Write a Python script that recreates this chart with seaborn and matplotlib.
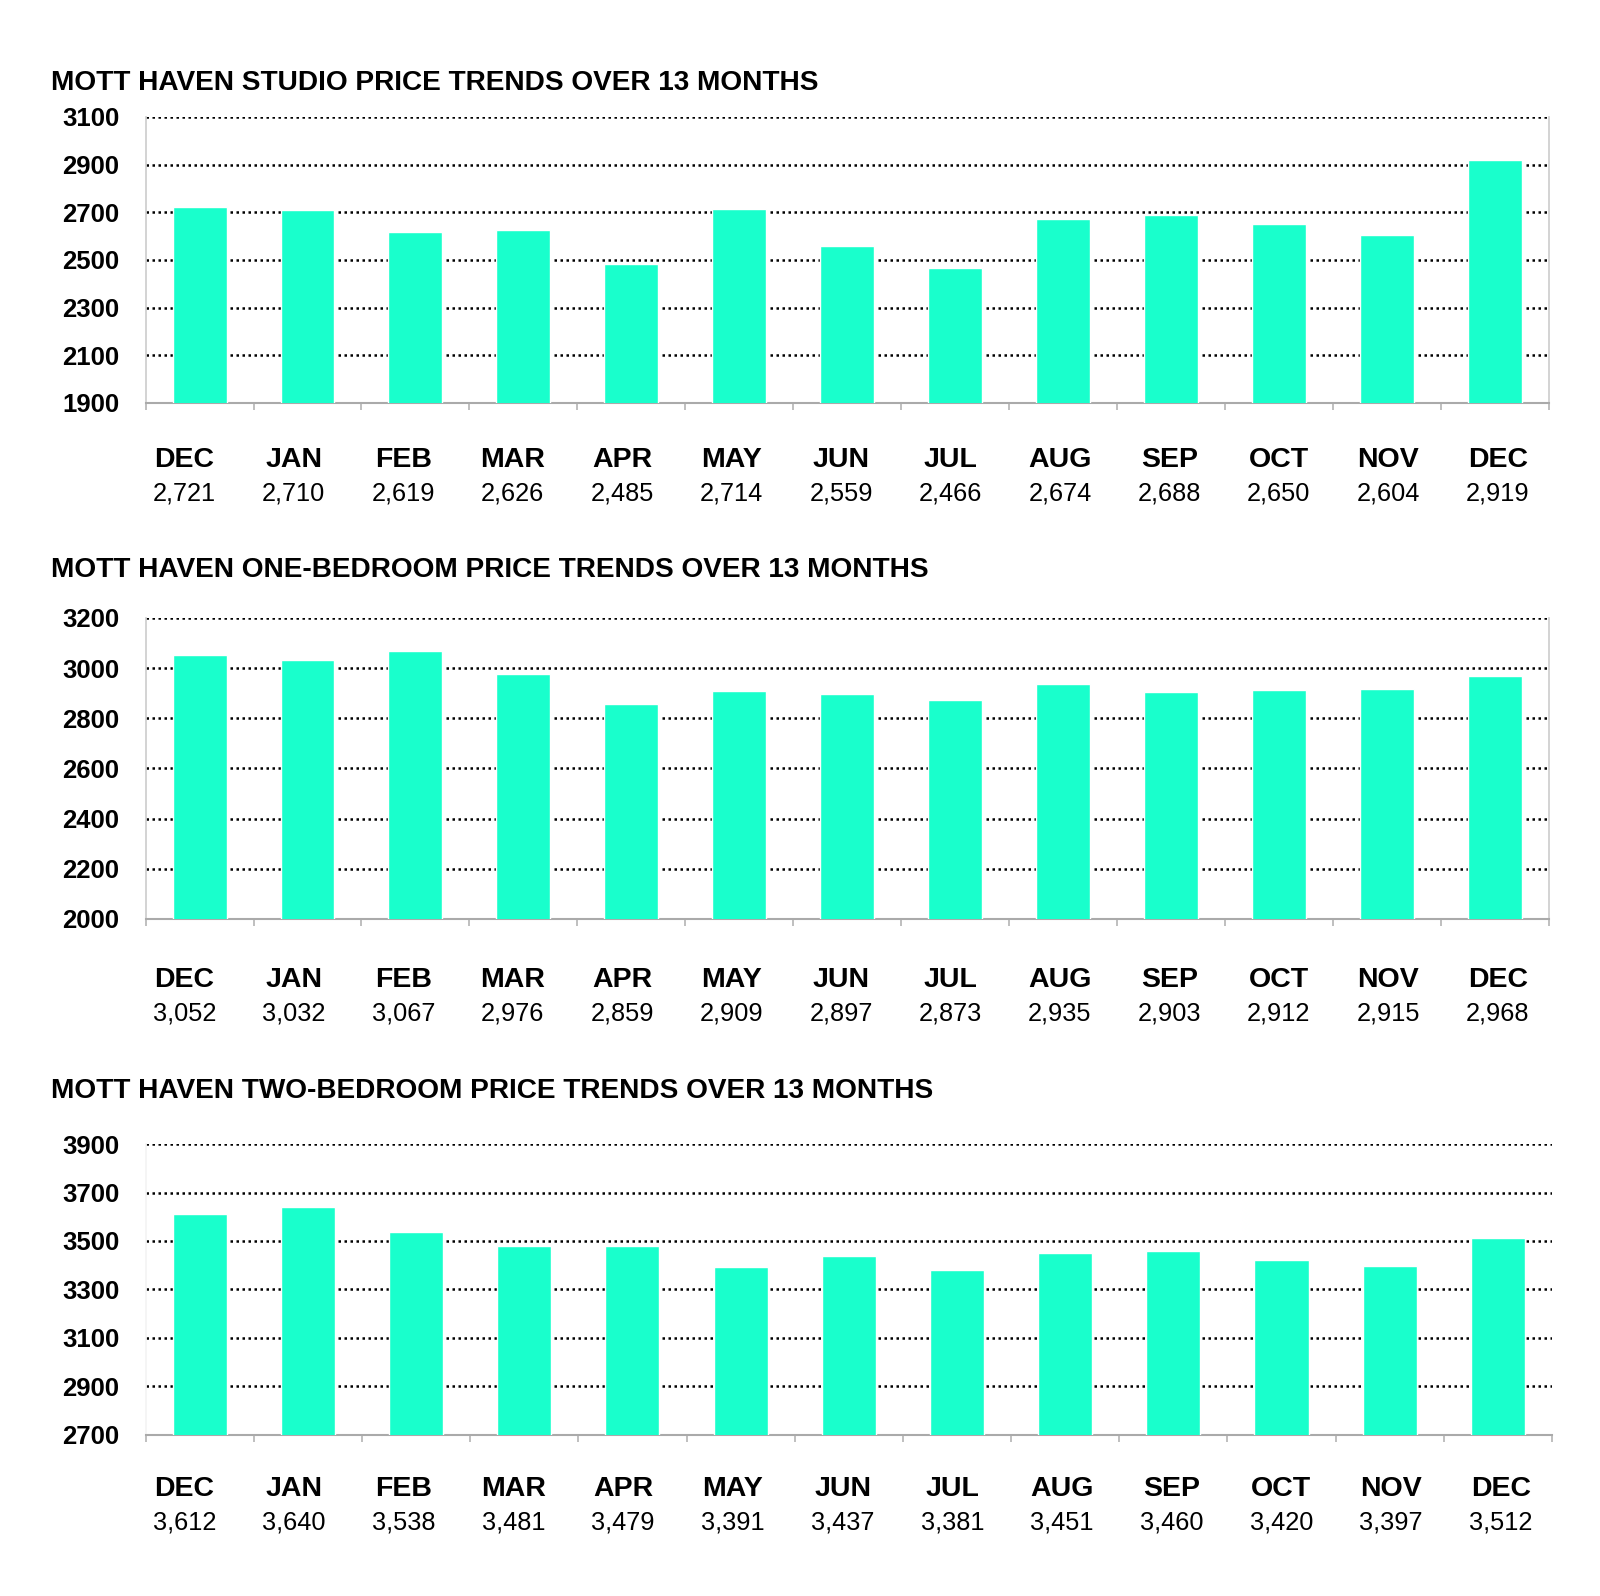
import numpy as np
import pandas as pd
import seaborn as sns
import matplotlib.pyplot as plt
from matplotlib.ticker import FixedLocator

months = ["DEC", "JAN", "FEB", "MAR", "APR", "MAY", "JUN",
          "JUL", "AUG", "SEP", "OCT", "NOV", "DEC"]
studio = [2721, 2710, 2619, 2626, 2485, 2714, 2559, 2466, 2674, 2688, 2650, 2604, 2919]
one_bed = [3052, 3032, 3067, 2976, 2859, 2909, 2897, 2873, 2935, 2903, 2912, 2915, 2968]
two_bed = [3612, 3640, 3538, 3481, 3479, 3391, 3437, 3381, 3451, 3460, 3420, 3397, 3512]

titles = [
    "MOTT HAVEN STUDIO PRICE TRENDS OVER 13 MONTHS",
    "MOTT HAVEN ONE-BEDROOM PRICE TRENDS OVER 13 MONTHS",
    "MOTT HAVEN TWO-BEDROOM PRICE TRENDS OVER 13 MONTHS",
]
yranges = [(1900, 3100, 200), (2000, 3200, 200), (2700, 3900, 200)]
series = [studio, one_bed, two_bed]

# axes boxes in figure fractions: left, bottom, width, height
boxes = [
    (0.091, 0.7475, 0.877, 0.1792),
    (0.091, 0.4242, 0.877, 0.1886),
    (0.091, 0.1009, 0.879, 0.1823),
]
title_y = [0.9479, 0.6427, 0.3163]
right_spine = [True, True, False]
left_color = ["#cccccc", "#cccccc", "#f4f4f4"]
# label rows below each axis (pixels under the bottom spine)
month_off = [57, 61, 54]
value_off = [91, 95, 88]

sns.set_theme(style="white")
plt.rcParams["font.family"] = ["Liberation Sans", "DejaVu Sans"]
plt.rcParams["text.color"] = "black"
plt.rcParams["ytick.color"] = "black"
plt.rcParams["ytick.labelcolor"] = "black"

fig = plt.figure(figsize=(16, 15.96), dpi=100)
bar_color = "#19FFCC"
px = 0.72  # points per pixel at 100 dpi

for k in range(3):
    ax = fig.add_axes(boxes[k])
    df = pd.DataFrame({"pos": list(range(13)), "price": series[k]})
    lo, hi, step = yranges[k]
    sns.barplot(data=df, x="pos", y="price", color=bar_color, width=0.5,
                saturation=1, ax=ax, zorder=3)
    ax.set_ylim(lo, hi)
    ax.set_xlim(-0.5, 12.5)
    ax.set_yticks(np.arange(lo, hi + 1, step))
    ax.yaxis.grid(True, linestyle=(0, (1, 1.4)), color="black", linewidth=1.8, zorder=0)
    ax.xaxis.grid(False)
    ax.set_axisbelow(True)
    ax.set_xlabel("")
    ax.set_ylabel("")
    ax.tick_params(axis="y", length=0, pad=19, labelsize=18.5)
    for lab in ax.get_yticklabels():
        lab.set_fontweight("bold")

    ax.set_xticks(range(13))
    ax.set_xticklabels([])
    ax.tick_params(axis="x", which="major", length=0)
    ax.xaxis.set_minor_locator(FixedLocator(np.arange(-0.5, 13, 1)))
    ax.tick_params(axis="x", which="minor", bottom=True, length=5, width=1.2,
                   color="#b4b4b4", direction="out")

    # month / value table under the axis, evenly spaced on its own grid
    for i, (m, v) in enumerate(zip(months, series[k])):
        fx = 0.0276 + i * 0.078
        ax.annotate(m, xy=(fx, 0), xycoords="axes fraction",
                    xytext=(0, -month_off[k] * px), textcoords="offset points",
                    ha="center", va="center", fontsize=20.5, fontweight="bold")
        ax.annotate(f"{v:,}", xy=(fx, 0), xycoords="axes fraction",
                    xytext=(0, -value_off[k] * px), textcoords="offset points",
                    ha="center", va="center", fontsize=18.3)

    ax.spines["top"].set_visible(False)
    ax.spines["bottom"].set_color("#aaaaaa")
    ax.spines["bottom"].set_linewidth(1.5)
    ax.spines["left"].set_color(left_color[k])
    ax.spines["left"].set_linewidth(1.2)
    if right_spine[k]:
        ax.spines["right"].set_color("#cccccc")
        ax.spines["right"].set_linewidth(1.2)
    else:
        ax.spines["right"].set_visible(False)

    fig.text(0.032, title_y[k], titles[k], fontsize=20.2, fontweight="bold",
             ha="left", va="center")

fig.savefig("out.png", dpi=100)
